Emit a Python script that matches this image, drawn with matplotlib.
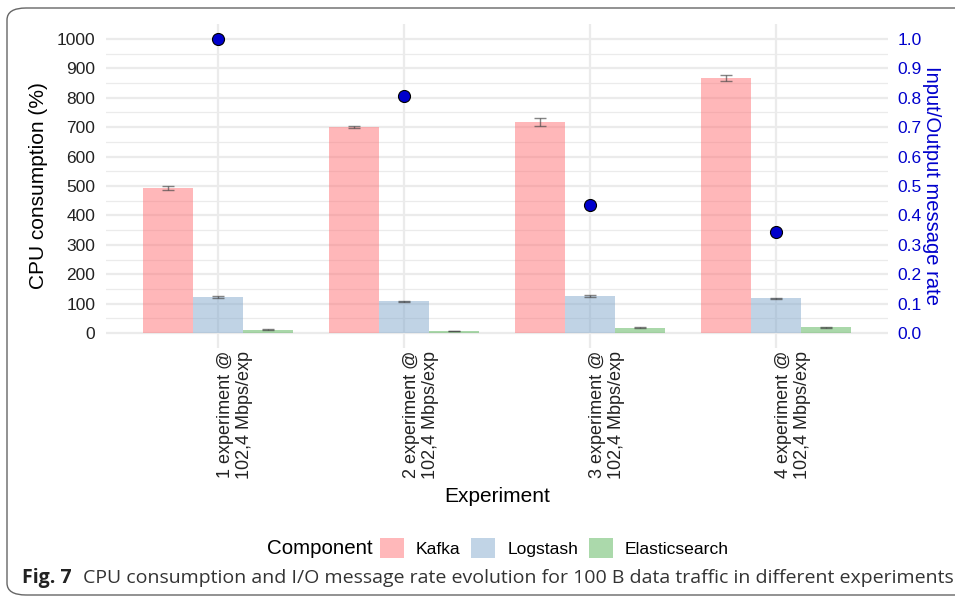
import matplotlib
matplotlib.use("Agg")
import matplotlib.pyplot as plt
import matplotlib.transforms as mtransforms
from matplotlib.patches import FancyBboxPatch, Patch
import numpy as np

plt.rcParams['font.family'] = ['Liberation Sans', 'DejaVu Sans']

experiments = ["1 experiment @\n102,4 Mbps/exp", "2 experiment @\n102,4 Mbps/exp",
               "3 experiment @\n102,4 Mbps/exp", "4 experiment @\n102,4 Mbps/exp"]
components = ["Kafka", "Logstash", "Elasticsearch"]
kafka = [493, 700, 718, 867]
kafka_err = [6, 4, 14, 10]
logstash = [123, 108, 126, 118]
logstash_err = [3, 2, 3, 2]
elastic = [11, 7, 18, 19]
elastic_err = [1, 1, 2, 1]
io_rate = [1.0, 0.806, 0.435, 0.343]

colors = ["#FF7175", "#83A9CD", "#57B357"]
legend_colors = ["#FFB8BA", "#C1D4E6", "#ABD9AB"]

W, H = 955, 597
fig = plt.figure(figsize=(W / 100, H / 100), dpi=100)

# frame
frame = FancyBboxPatch((7 / W, 2 / H), (W + 20) / W, (H - 8 - 2) / H,
                       boxstyle="round,pad=0,rounding_size=0.02",
                       transform=fig.transFigure, fill=False, edgecolor="#666666",
                       linewidth=1.0, clip_on=False)
fig.patches.append(frame)

left, right, top, bottom = 106.4, 887.6, 24.3, 347.7
ax = fig.add_axes([left / W, 1 - bottom / H, (right - left) / W, (bottom - top) / H])

x = np.arange(len(experiments))
bw = 50 / 186
series = [kafka, logstash, elastic]
errs = [kafka_err, logstash_err, elastic_err]
for i, (vals, err, c) in enumerate(zip(series, errs, colors)):
    pos = x + (i - 1) * bw
    ax.bar(pos, vals, width=bw, color=c, alpha=0.5, linewidth=0, zorder=2)
    ax.errorbar(pos, vals, yerr=err, fmt='none', ecolor="#444444", alpha=0.65,
                elinewidth=1.0, capsize=4.3, capthick=1.0, zorder=3)

ax.set_xlim(-0.6, len(experiments) - 1 + 0.6)
ax.set_ylim(-50, 1050)
ax.set_yticks(np.arange(0, 1001, 100))
ax.set_yticks(np.arange(50, 1000, 100), minor=True)
ax.set_xticks(x)
ax.set_xticklabels([])
ax.tick_params(axis='both', which='both', length=0, labelsize=12.5, labelcolor='#222222')
ax.tick_params(axis='y', pad=8)
ax.grid(True, which='major', color='#EBEBEB', linewidth=1.6, zorder=0)
ax.grid(True, which='minor', axis='y', color='#EBEBEB', linewidth=0.9, zorder=0)
ax.set_axisbelow(True)
for s in ax.spines.values():
    s.set_visible(False)
ax.set_ylabel("CPU consumption (%)", fontsize=15, labelpad=6)

# rotated category labels
offset = mtransforms.ScaledTranslation(17 / 100, -3 / 100, fig.dpi_scale_trans)
for xi, lab in zip(x, experiments):
    ax.text(xi, 0, lab, transform=ax.get_xaxis_transform() + offset, rotation=90,
            ha='center', va='top', multialignment='right', fontsize=13, color='#222222')

fig.text(497 / W, 1 - 497 / H, "Experiment", fontsize=15, ha='center', va='center')

ax2 = ax.twinx()
ax2.set_ylim(-0.05, 1.05)
ax2.set_yticks(np.arange(0, 1.01, 0.1))
ax2.set_yticklabels([f"{v:.1f}" for v in np.arange(0, 1.01, 0.1)])
ax2.tick_params(axis='y', length=0, labelsize=12.5, labelcolor='#0000CC', pad=7)
for s in ax2.spines.values():
    s.set_visible(False)
ax2.scatter(x, io_rate, s=75, color='#0000CC', edgecolor='black', linewidth=0.8, zorder=5)
ax2.set_ylabel("Input/Output message rate", fontsize=14.5, color='#0000CC',
               rotation=-90, va='bottom', labelpad=0)

# legend
fig.text(267 / W, 1 - 548 / H, "Component", fontsize=14.8, va='center', ha='left')
handles = [Patch(facecolor=c, edgecolor='none') for c in legend_colors]
fig.legend(handles, components, loc='center left', bbox_to_anchor=(378 / W, 1 - 548 / H),
           ncol=3, frameon=False, fontsize=12.6, handlelength=1.37, handleheight=1.37,
           handletextpad=0.7, columnspacing=0.6, borderaxespad=0, borderpad=0.1)

# caption
t1 = fig.text(22 / W, 1 - 578 / H, "Fig. 7", fontsize=14, fontweight='bold',
              family=['Open Sans', 'DejaVu Sans'], va='center', ha='left', color='#222222')
fig.canvas.draw()
bb = t1.get_window_extent()
fig.text((bb.x1 + 11) / W, 1 - 578 / H,
         "CPU consumption and I/O message rate evolution for 100 B data traffic in different experiments",
         fontsize=14, family=['Open Sans', 'DejaVu Sans'], va='center', ha='left', color='#333333')

fig.savefig("out.png", dpi=100)
